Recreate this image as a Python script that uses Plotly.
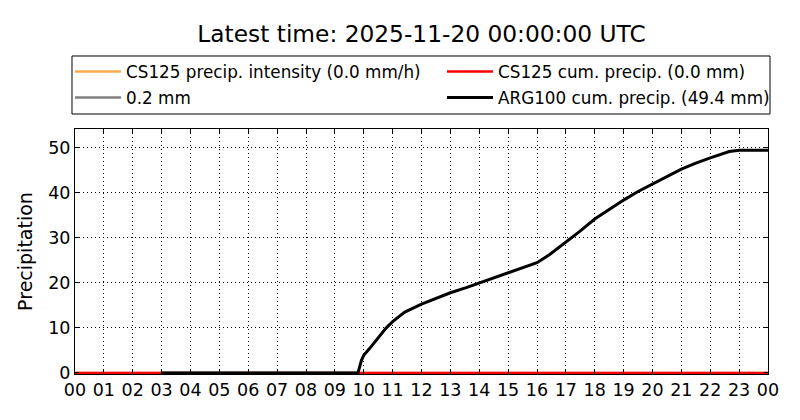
import plotly.graph_objects as go

# Data
hour_ticks = list(range(0, 25))
hour_labels = [f"{h % 24:02d}" for h in hour_ticks]

cs125_hours = [0.0, 24.0]
cs125_intensity = [0.0, 0.0]
cs125_cum = [0.0, 0.0]

threshold_hours = [3.0, 9.8]
threshold_vals = [0.0, 0.0]

arg_hours = [3.0, 9.8, 9.92, 10.0, 10.2, 10.49, 10.78, 11.0, 11.42, 12.0, 12.52, 13.0,
             13.55, 14.0, 14.72, 15.0, 15.4, 16.0, 16.44, 17.0, 17.47, 18.0, 18.5,
             19.0, 19.5, 20.0, 20.5, 21.0, 21.5, 22.0, 22.66, 23.0, 24.0]
arg_cum = [0.0, 0.0, 2.8, 3.9, 5.4, 7.6, 10.0, 11.4, 13.5, 15.3, 16.6, 17.8,
           18.95, 19.95, 21.5, 22.2, 23.0, 24.5, 26.3, 29.0, 31.4, 34.2, 36.4,
           38.4, 40.3, 42.0, 43.7, 45.3, 46.6, 47.8, 49.2, 49.5, 49.5]

y_ticks = [0, 10, 20, 30, 40, 50]

FONT = "DejaVu Sans"
LEG_FONT = dict(family=FONT, size=16.8, color="black")

fig = go.Figure()
fig.add_trace(go.Scatter(x=cs125_hours, y=cs125_intensity, mode="lines",
                         line=dict(color="#ffaa4d", width=2.5),
                         name="CS125 precip. intensity (0.0 mm/h)", legend="legend"))
fig.add_trace(go.Scatter(x=cs125_hours, y=cs125_cum, mode="lines",
                         line=dict(color="#ff0000", width=2.5),
                         name="CS125 cum. precip. (0.0 mm)", legend="legend2"))
fig.add_trace(go.Scatter(x=threshold_hours, y=threshold_vals, mode="lines",
                         line=dict(color="#808080", width=2.5),
                         name="0.2 mm", legend="legend3"))
fig.add_trace(go.Scatter(x=arg_hours, y=arg_cum, mode="lines",
                         line=dict(color="#000000", width=3),
                         name="ARG100 cum. precip. (49.4 mm)", legend="legend4"))

# plot area (figure coords): left 67, top 121, width 693, height 245
col1_x = -0.0072
col2_x = 0.5296
row1_y = 1.306
row2_y = 1.200

def leg(x, y):
    return dict(x=x, xanchor="left", y=y, yanchor="top", orientation="v",
                bgcolor="rgba(0,0,0,0)", borderwidth=0, font=LEG_FONT,
                itemwidth=46)

fig.update_layout(
    width=800, height=420,
    margin=dict(l=67, r=40, t=121, b=54, autoexpand=False),
    paper_bgcolor="white", plot_bgcolor="white",
    font=dict(family=FONT, color="black"),
    title=dict(text="Latest time: 2025-11-20 00:00:00 UTC",
               x=0.5, xref="paper", xanchor="center",
               y=1 - 26 / 420, yref="container", yanchor="middle",
               font=dict(family=FONT, size=23.3, color="black")),
    showlegend=True,
    legend=leg(col1_x, row1_y),
    legend2=leg(col2_x, row1_y),
    legend3=leg(col1_x, row2_y),
    legend4=leg(col2_x, row2_y),
    shapes=[dict(type="rect", xref="paper", yref="paper",
                 x0=-0.00433, x1=1.00289, y0=1.0612, y1=1.2980,
                 line=dict(color="black", width=1), fillcolor="rgba(0,0,0,0)",
                 layer="above")],
    xaxis=dict(range=[0, 24], tickmode="array", tickvals=hour_ticks, ticktext=hour_labels,
               showgrid=True, gridcolor="black", griddash="1px,3px", gridwidth=1,
               showline=True, linecolor="black", linewidth=1, mirror="ticks",
               ticks="inside", ticklen=4, tickcolor="black",
               tickfont=dict(family=FONT, size=17.5, color="black"), zeroline=False),
    yaxis=dict(range=[-0.25, 54.2], tickmode="array", tickvals=y_ticks,
               showgrid=True, gridcolor="black", griddash="1px,3px", gridwidth=1,
               showline=True, linecolor="black", linewidth=1, mirror="ticks",
               ticks="inside", ticklen=4, tickcolor="black",
               title=dict(text="Precipitation", font=dict(family=FONT, size=19, color="black"), standoff=10),
               tickfont=dict(family=FONT, size=17.5, color="black"), zeroline=False),
)

fig.write_html("out.html")
